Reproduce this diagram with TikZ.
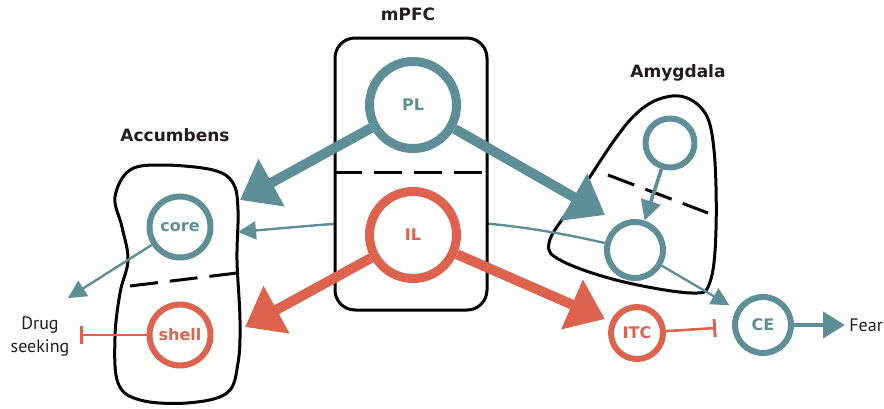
\documentclass[tikz,border=0pt]{standalone}
\usepackage{fontspec}
\setmainfont{DejaVu Sans}
\newfontfamily\plainfont{PT Sans}
\usetikzlibrary{%
	arrows.meta,%
	calc%
}
\definecolor{bluegreen}{RGB}{94,143,151}
\definecolor{coral}{RGB}{221,99,78}
\definecolor{inkdark}{RGB}{35,28,26}

\tikzstyle{title}=[font=\bfseries\fontsize{8.5}{9}\selectfont, text=inkdark]
\tikzstyle{plain}=[font=\plainfont\fontsize{9}{11.5}\selectfont, text=inkdark, align=center, inner sep=0pt]
\tikzstyle{region}=[draw=black, line width=1.5pt]
\tikzstyle{divider}=[draw=black, line width=1.5pt, dash pattern=on 14pt off 6pt]
\tikzstyle{tealcirc}=[circle, draw=bluegreen, fill=white, line width=3pt, inner sep=0pt, text=bluegreen, font=\bfseries\fontsize{8}{8}\selectfont]
\tikzstyle{redcirc}=[tealcirc, draw=coral, text=coral]
\tikzstyle{bigteal}=[draw=bluegreen, line width=5pt, -{Triangle[length=18pt,width=26pt]}]
\tikzstyle{bigred}=[bigteal, draw=coral]
\tikzstyle{thinteal}=[draw=bluegreen, line width=1.2pt, -{Triangle[length=9pt,width=9pt]}]
\tikzstyle{medteal}=[draw=bluegreen, line width=1.8pt, -{Triangle[length=10pt,width=10pt]}]
\tikzstyle{inhibit}=[draw=coral, line width=1.3pt, -{Bar[width=9pt,line width=1.5pt]}]

\begin{document}
\begin{tikzpicture}[x=0.5pt, y=-0.5pt, line join=round]
	\useasboundingbox (0,0) rectangle (884,408);
	
	% Titles
	\node[title] (mpfcT) at (408,14) {mPFC};
	\node[title] (accT) at (175,135) {Accumbens};
	\node[title] (amyT) at (678,73) {Amygdala};
	
	% Accumbens outline
	\draw[region] plot[smooth cycle, tension=0.6] coordinates {
		(163,165) (213,170) (233,183) (238,210) (237,260) (240,320)
		(238,363) (227,393) (187,403) (140,400) (118,383) (115,337)
		(120,293) (128,260) (122,227) (115,197) (130,170)};
	\draw[divider] (130,286) -- (237,273);
	
	% Amygdala outline
	\draw[region] plot[smooth cycle, tension=0.6] coordinates {
		(672,96) (703,110) (714,150) (716,230) (710,282) (692,293)
		(620,281) (562,261) (549,243) (572,205) (630,120)};
	\draw[divider] (608,175) -- (708,213);
	
	% Circles
	\node[tealcirc, minimum size=30.5pt] (core) at (180,227) {core};
	\node[redcirc, minimum size=30.5pt] (shell) at (180,335) {shell};
	\node[tealcirc, minimum size=24.5pt] (LA) at (670,143) {};
	\node[tealcirc, minimum size=28pt] (BLA) at (635,250) {};
	\node[redcirc, minimum size=26pt] (ITC) at (637,333) {ITC};
	\node[tealcirc, minimum size=28pt] (CE) at (763,325) {CE};
	
	% Arrow ends
	\coordinate (coreIn) at (238,232);
	\coordinate (drugOut) at (68,298);
	\coordinate (drugBar) at (80,335);
	\coordinate (accTop) at (240,200);
	\coordinate (accBot) at (245,327);
	\coordinate (amyIn) at (605,215);
	\coordinate (fearIn) at (845,325);
	
	% BLA to core, behind mPFC
	\draw[thinteal] (BLA) to[out=167,in=5] (coreIn);
	
	% mPFC
	\node[region, fill=white, rounded corners=10pt, minimum width=76pt, minimum height=136pt] (mpfc) at (411,174) {};
	\draw[divider] (mpfc.west |- 0,172) -- (mpfc.east |- 0,172);
	\node[tealcirc, line width=4.5pt, minimum size=43.5pt] (PL) at (413,105) {PL};
	\node[redcirc, line width=4.5pt, minimum size=43.5pt] (IL) at (413,235) {IL};
	
	% Projections
	\draw[bigteal] (PL) -- (accTop);
	\draw[bigteal] (PL) -- (amyIn);
	\draw[bigred] (IL) -- (accBot);
	\draw[bigred, shorten >=3pt] (IL) -- (ITC);
	
	\draw[thinteal] (core) -- (drugOut);
	\draw[inhibit] (shell) -- (drugBar);
	\draw[medteal] (LA) -- (BLA);
	\draw[thinteal, shorten >=4pt] (BLA) -- (CE);
	\draw[inhibit, shorten >=8pt] (ITC) -- (CE);
	\draw[medteal, line width=2pt, -{Triangle[length=11pt,width=13pt]}] (CE) -- (fearIn);
	
	% Outputs
	\node[plain] (drug) at (40,337) {Drug\\seeking};
	\node[plain, anchor=west] (fear) at (849,325) {Fear};
\end{tikzpicture}
\end{document}
